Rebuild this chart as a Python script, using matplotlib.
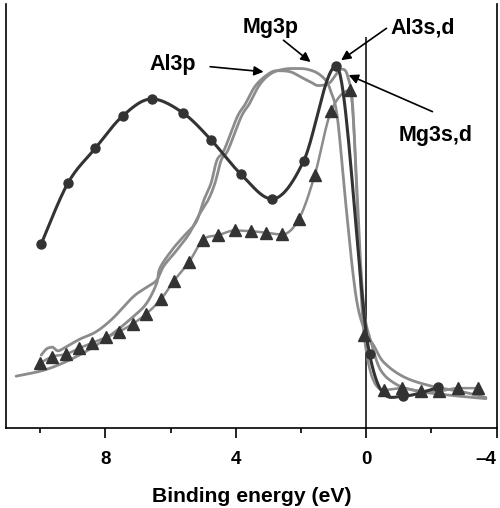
import numpy as np
import matplotlib
matplotlib.use("Agg")
import matplotlib.pyplot as plt

plt.rcParams['font.family'] = ['Liberation Sans', 'DejaVu Sans']

# Binding energy (eV) and intensity (arb. units)
circ_E = [9.97, 9.15, 8.31, 7.46, 6.58, 5.63, 4.77, 3.85, 2.89, 1.92, 0.92, -0.10, -1.12, -2.21]
circ_I = [50.8, 67.6, 77.2, 86.2, 90.8, 87.0, 79.6, 70.1, 63.2, 73.7, 99.9, 20.4, 8.8, 11.2]

tri_E = [10.02, 9.63, 9.20, 8.81, 8.40, 7.99, 7.58, 7.17, 6.76, 6.30, 5.90, 5.43, 5.00, 4.54,
         4.04, 3.54, 3.07, 2.58, 2.07, 1.58, 1.08, 0.51, 0.07, -0.54, -1.11, -1.67, -2.23,
         -2.80, -3.42]
tri_I = [17.8, 19.7, 20.4, 22.0, 23.5, 25.0, 26.6, 28.7, 31.4, 35.5, 40.6, 45.9, 52.0, 53.2,
         54.5, 54.3, 53.9, 53.4, 57.6, 69.8, 87.4, 93.2, 25.7, 10.5, 11.0, 10.2, 10.2,
         11.0, 11.0]

mg3p_E = [9.97, 9.81, 9.63, 9.46, 9.22, 8.79, 8.28, 7.77, 7.15, 6.74, 6.43, 6.21, 5.81, 5.44,
          5.13, 4.85, 4.64, 4.45, 4.24, 3.84, 3.59, 3.28, 2.94, 2.54, 2.12, 1.82, 1.51, 1.25,
          1.10, 0.89, 0.64, 0.42, 0.24, -0.01, -0.22, -0.53, -1.15, -1.98, -2.99, -3.67]
mg3p_I = [20.1, 21.8, 22.3, 21.3, 22.3, 24.5, 26.6, 30.3, 36.2, 38.8, 40.8, 44.7, 49.1, 53.5,
          58.8, 62.9, 67.6, 73.9, 76.7, 85.8, 89.4, 94.6, 97.7, 99.0, 99.2, 99.0, 98.0, 96.0,
          93.2, 85.9, 62.9, 43.6, 32.6, 25.7, 22.9, 18.2, 14.1, 11.6, 9.9, 8.4]

al3p_E = [10.74, 10.12, 9.61, 9.00, 8.38, 7.77, 7.15, 6.74, 6.43, 6.33, 5.96, 5.59, 5.22, 4.98,
          4.76, 4.58, 4.36, 3.96, 3.71, 3.41, 3.05, 2.74, 2.33, 2.02, 1.71, 1.47, 1.15, 0.94,
          0.79, 0.64, 0.54, 0.43, 0.30, 0.18, 0.05, -0.13, -0.44, -0.95, -1.57, -2.49, -3.67]
al3p_I = [14.3, 15.4, 16.8, 19.2, 22.3, 26.1, 30.7, 34.4, 39.9, 44.1, 49.1, 53.0, 56.8, 62.9,
          67.6, 73.9, 76.7, 85.8, 89.4, 94.3, 97.4, 98.6, 98.3, 96.9, 95.5, 94.5, 95.1, 97.4,
          99.0, 98.6, 96.0, 90.5, 68.4, 46.3, 31.2, 24.3, 16.0, 11.9, 10.2, 9.1, 8.1]

major_ticks = [8, 4, 0, -4]
minor_ticks = [10, 6, 2, -2]
tick_labels = ['8', '4', '0', '\u20134']


def smooth(x, y, n=24):
    """Cubic Bezier smoothing through every point; tangents are flattened at
    local maxima/minima so the curve does not overshoot its data points."""
    P = np.column_stack([x, y]).astype(float)
    P = np.vstack([P[0], P, P[-1]])
    t = np.linspace(0, 1, n, endpoint=False)[:, None]

    def tangent(i):
        d = P[i + 1] - P[i - 1]
        if 1 < i < len(P) - 2:
            a, b, c = P[i - 1, 1], P[i, 1], P[i + 1, 1]
            if (b - a) * (c - b) <= 0:
                d = np.array([d[0], 0.0])
        return d

    segs = []
    for i in range(1, len(P) - 2):
        p1, p2 = P[i], P[i + 1]
        c1 = p1 + tangent(i) / 6.0
        c2 = p2 - tangent(i + 1) / 6.0
        segs.append((1 - t) ** 3 * p1 + 3 * (1 - t) ** 2 * t * c1
                    + 3 * (1 - t) * t ** 2 * c2 + t ** 3 * p2)
    segs.append(P[-2][None, :])
    S = np.vstack(segs)
    return S[:, 0], S[:, 1]


fig = plt.figure(figsize=(5.0, 5.08), dpi=100)
ax = fig.add_axes([0.012, 0.1575, 0.9814, 0.8346])

gray = '#8c8c8c'
dark = '#333333'

for E, I in ((al3p_E, al3p_I), (mg3p_E, mg3p_I)):
    sx, sy = smooth(E, I)
    ax.plot(sx, sy, color=gray, lw=2.0, solid_capstyle='round', zorder=2)

sx, sy = smooth(tri_E, tri_I)
ax.plot(sx, sy, color=gray, lw=1.8, zorder=3)
ax.plot(tri_E, tri_I, ls='none', marker='^', ms=8, color=dark, zorder=4)

sx, sy = smooth(circ_E, circ_I)
ax.plot(sx, sy, color=dark, lw=2.2, zorder=5)
ax.plot(circ_E, circ_I, ls='none', marker='o', ms=6.5, color=dark, zorder=6)

# Fermi level
ax.vlines(0, 0, 108, color='black', lw=1.1, zorder=1)

ax.set_xlim(11.05, -4.0)
ax.set_ylim(0, 117)

ax.set_xticks(major_ticks)
ax.set_xticklabels(tick_labels, fontsize=13.5, fontweight='bold')
ax.get_xticklabels()[-1].set_horizontalalignment('right')
ax.set_xticks(minor_ticks, minor=True)
ax.tick_params(axis='x', which='major', direction='out', length=7.5, width=1.2, pad=9)
ax.tick_params(axis='x', which='minor', direction='out', length=3.8, width=1.2)
ax.set_yticks([])
ax.spines['top'].set_visible(False)
for s in ('left', 'right', 'bottom'):
    ax.spines[s].set_linewidth(1.2)

ax.set_xlabel('Binding energy (eV)', fontsize=15.2, fontweight='bold', labelpad=14)

arrow = dict(arrowstyle='-|>', lw=1.2, color='black', mutation_scale=14,
             shrinkA=0, shrinkB=0)
labels = [
    ('Al3p', (6.64, 100.4), (4.79, 99.7), (3.15, 98.3)),
    ('Mg3p', (3.80, 110.6), (2.54, 107.0), (1.71, 101.0)),
    ('Al3s,d', (-0.75, 110.3), (-0.62, 110.3), (0.77, 101.5)),
    ('Mg3s,d', (-1.0, 80.8), (-2.03, 87.3), (0.54, 97.4)),
]
for txt, tpos, tail, tip in labels:
    ax.text(tpos[0], tpos[1], txt, fontsize=15.5, fontweight='bold', ha='left', va='center')
    ax.annotate('', xy=tip, xytext=tail, arrowprops=arrow)

fig.savefig('out.png', dpi=100)
